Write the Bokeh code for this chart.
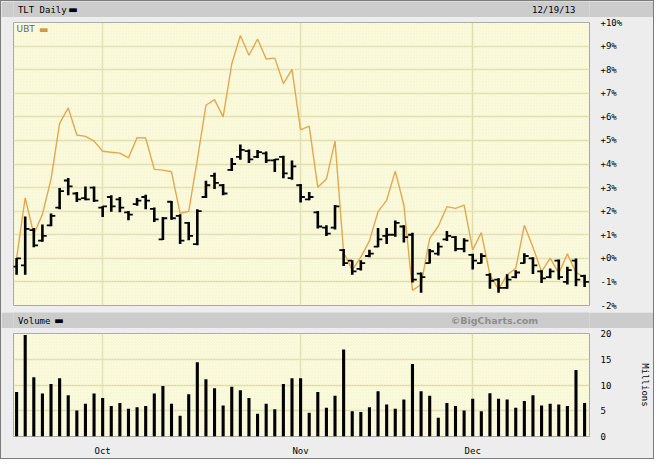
import numpy as np
from bokeh.plotting import figure
from bokeh.models import Range1d, FixedTicker, Label, BoxAnnotation, ColumnDataSource
from bokeh.layouts import column
from bokeh.embed import file_html
from bokeh.resources import INLINE

# ---------------- data (percent change vs. first close; volume in millions) ----------------
tlt_open = [-0.35, -0.30, 1.20, 0.75, 1.40, 2.15, 3.30, 2.75, 2.55, 3.00,
            2.15, 2.60, 2.50, 1.95, 2.30, 2.60, 2.10, 0.80, 2.40, 1.80,
            1.50, 0.60, 2.60, 3.50, 3.10, 3.75, 4.30, 4.55, 4.30, 4.45,
            4.15, 4.30, 3.40, 3.10, 2.50, 1.95, 1.30, 1.30, 0.35, -0.10,
            -0.45, 0.10, 0.50, 0.95, 1.00, 1.35, 1.00, -0.65, -0.20, 0.20,
            0.80, 0.90, 0.40, 0.15, -0.20, -0.70, -0.90, -1.25, -0.80, -0.20,
            0.00, -0.55, -0.80, -0.10, -1.00, -0.10, -0.75]
tlt_high = [0.01, 1.77, 1.29, 1.43, 1.90, 2.98, 3.41, 2.81, 3.05, 3.05,
            2.21, 2.67, 2.60, 2.01, 2.56, 2.70, 2.16, 1.75, 2.43, 1.87,
            1.54, 2.08, 3.29, 3.63, 3.15, 4.25, 4.83, 4.62, 4.59, 4.53,
            4.21, 4.35, 4.15, 3.15, 2.81, 2.01, 1.40, 2.26, 0.40, -0.08,
            -0.08, 0.36, 1.29, 1.29, 1.60, 1.40, 1.09, -0.60, 0.40, 0.67,
            1.16, 0.95, 0.85, 0.19, 0.22, -0.63, -0.84, -0.67, -0.50, 0.22,
            0.05, -0.50, -0.43, -0.05, -0.36, -0.01, -0.70]
tlt_low = [-0.70, -0.70, 0.47, 0.70, 1.36, 2.08, 2.67, 2.39, 2.46, 2.39,
           1.75, 1.98, 1.95, 1.61, 2.23, 2.08, 1.54, 0.78, 1.64, 0.61,
           0.77, 0.56, 2.56, 2.94, 2.67, 3.70, 4.18, 4.04, 4.25, 4.04,
           3.66, 3.40, 3.33, 2.37, 2.46, 1.27, 0.95, 1.22, -0.33, -0.70,
           -0.52, 0.05, 0.47, 0.61, 0.91, 0.67, -1.02, -1.46, -0.22, 0.12,
           0.74, 0.30, 0.26, -0.47, -0.22, -1.29, -1.46, -1.29, -0.84, -0.22,
           -0.66, -1.05, -0.84, -0.91, -1.11, -1.18, -1.22]
tlt_close = [0.00, 1.25, 0.55, 0.95, 1.80, 2.85, 3.05, 2.50, 2.50, 2.45,
             2.20, 2.20, 2.15, 1.85, 2.45, 2.45, 1.65, 1.70, 1.70, 0.75,
             0.95, 2.00, 3.10, 3.20, 2.75, 4.00, 4.60, 4.20, 4.50, 4.15,
             4.20, 3.60, 3.90, 2.60, 2.60, 1.35, 1.05, 2.20, -0.20, -0.55,
             -0.20, 0.20, 0.80, 1.00, 1.50, 0.90, -0.90, -0.80, 0.30, 0.50,
             0.95, 0.40, 0.75, -0.10, 0.10, -0.95, -1.25, -0.90, -0.60, 0.10,
             -0.30, -0.85, -0.55, -0.80, -0.50, -0.90, -1.00]
ubt_pct = [0.00, 2.57, 1.02, 1.87, 3.36, 5.72, 6.38, 5.23, 5.17, 4.97,
           4.54, 4.50, 4.46, 4.26, 5.12, 5.10, 3.77, 3.74, 3.67, 1.91,
           1.99, 4.18, 6.49, 6.73, 6.00, 8.24, 9.45, 8.61, 9.30, 8.45,
           8.49, 7.41, 8.01, 5.45, 5.61, 3.01, 3.36, 4.97, 0.26, -0.50,
           0.05, 0.74, 1.98, 2.46, 3.70, 2.26, -1.36, -1.11, 0.85, 1.36,
           2.19, 2.12, 2.26, 0.36, 1.09, -0.70, -1.32, -0.70, -0.43, 1.40,
           0.47, -0.56, 0.01, -0.63, 0.19, -0.61, -0.80]
volume_m = [8.65, 19.7, 11.5, 8.35, 10.2, 11.3, 8.0, 5.05, 6.35, 8.35,
            7.5, 5.9, 6.5, 5.4, 5.7, 5.9, 8.35, 9.8, 6.35, 4.05,
            8.2, 14.4, 11.1, 9.35, 6.0, 9.65, 9.0, 7.5, 4.4, 6.35,
            5.3, 10.2, 11.3, 11.3, 4.6, 8.65, 5.6, 7.9, 16.9, 4.9,
            4.75, 5.7, 8.8, 6.2, 5.4, 7.2, 14.1, 8.8, 7.9, 3.65,
            6.5, 5.9, 5.05, 7.35, 4.9, 8.4, 7.35, 7.2, 5.6, 6.9,
            8.0, 6.0, 6.35, 6.2, 5.9, 12.9, 6.5]

month_ticks = [10, 33, 53]          # first trading day of Oct, Nov, Dec
month_labels = ["Oct", "Nov", "Dec"]
pct_ticks = [-2, -1, 0, 1, 2, 3, 4, 5, 6, 7, 8, 9, 10]
vol_ticks = [0, 5, 10, 15, 20]

title_left = "TLT Daily"
title_right = "12/19/13"
legend_label = "UBT"
volume_title = "Volume"
credit = "\u00a9BigCharts.com"
y2_label = "Millions"

n = len(volume_m)
for arr in (tlt_open, tlt_high, tlt_low, tlt_close, ubt_pct):
    assert len(arr) == n

# ---------------- style ----------------
W = 652
LEFT, RIGHT = 12, 58
OUTER = "#ededed"
HEAD = "#cccccc"
PLOT_BG = "#fdfde1"
GRID = "#dedaa6"
UBT_COLOR = "#e4a84c"
MONO = "DejaVu Sans Mono"
SANS = "DejaVu Sans"

idx = np.arange(n)
tick_len = 0.5
src = ColumnDataSource(dict(
    x=idx, xl=idx - tick_len, xr=idx + tick_len,
    o=tlt_open, h=tlt_high, l=tlt_low, c=tlt_close, u=ubt_pct, v=volume_m,
))

xr = Range1d(-0.36, n - 1 + 0.57)


def band(height, labels):
    f = figure(width=W, height=height, x_range=Range1d(0, W), y_range=Range1d(0, height),
               title=None, toolbar_location=None, output_backend="svg",
               x_axis_location=None, y_axis_location=None, min_border=0,
               background_fill_color=HEAD, border_fill_color=HEAD, outline_line_color=None)
    f.grid.visible = False
    for kw in labels:
        base = dict(y=height / 2, text_baseline="middle", text_font=MONO,
                    text_font_size="9px", text_color="#000000")
        base.update(kw)
        f.add_layout(Label(**base))
    return f


head1 = band(16, [
    dict(x=5, text=title_left),
    dict(x=62, text="\u25ac", text_font=SANS, text_font_size="10px"),
    dict(x=636, text=title_right, text_align="right"),
])

# ---------------- price panel ----------------
p = figure(width=W, height=295, x_range=xr, y_range=Range1d(-2, 10),
           title=None, toolbar_location=None, output_backend="svg",
           x_axis_location=None, y_axis_location="right",
           min_border_left=LEFT, min_border_right=RIGHT, min_border_top=5, min_border_bottom=7,
           background_fill_color=PLOT_BG, border_fill_color=OUTER,
           outline_line_color="#a4a4a4")
p.add_layout(BoxAnnotation(fill_color=None, line_color=None, hatch_pattern="right_diagonal_line",
                           hatch_color="#f0f0cc", hatch_scale=3, hatch_weight=0.6,
                           level="underlay"))
p.ygrid.ticker = FixedTicker(ticks=pct_ticks)
p.xgrid.ticker = FixedTicker(ticks=month_ticks)
p.grid.grid_line_color = GRID
p.grid.grid_line_width = 1.5

p.yaxis.ticker = FixedTicker(ticks=pct_ticks)
p.yaxis.major_label_overrides = {t: ("+%d%%" % t if t >= 0 else "%d%%" % t) for t in pct_ticks}
p.yaxis.axis_line_color = None
p.yaxis.major_tick_line_color = None
p.yaxis.minor_tick_line_color = None
p.yaxis.major_label_standoff = 5
p.yaxis.major_label_text_font = MONO
p.yaxis.major_label_text_font_size = "9px"
p.yaxis.major_label_text_color = "#000000"

p.line("x", "u", source=src, line_color=UBT_COLOR, line_width=1.4)
p.segment(x0="x", y0="l", x1="x", y1="h", source=src, line_color="#000000", line_width=2.6)
p.segment(x0="xl", y0="o", x1="x", y1="o", source=src, line_color="#000000", line_width=1.8)
p.segment(x0="x", y0="c", x1="xr", y1="c", source=src, line_color="#000000", line_width=1.8)

p.add_layout(Label(x=0, y=9.72, text=legend_label, text_font=SANS, text_font_size="9px",
                   text_color="#666666", text_baseline="middle"))
p.add_layout(Label(x=2.6, y=9.72, text="\u25ac", text_font=SANS, text_font_size="10px",
                   text_color="#d19a3c", text_baseline="middle"))

head2 = band(16, [
    dict(x=5, text=volume_title),
    dict(x=46, text="\u25ac", text_font=SANS, text_font_size="10px"),
    dict(x=LEFT + 582, text=credit, text_align="right", text_font=SANS,
         text_font_style="bold", text_font_size="9.5px", text_color="#8e8e8e"),
])

# ---------------- volume panel ----------------
v = figure(width=W, height=130, x_range=xr, y_range=Range1d(0, 20),
           title=None, toolbar_location=None, output_backend="svg",
           x_axis_location="below", y_axis_location="right",
           min_border_left=LEFT, min_border_right=RIGHT, min_border_top=5, min_border_bottom=15,
           background_fill_color=PLOT_BG, border_fill_color=OUTER,
           outline_line_color="#a4a4a4")
v.add_layout(BoxAnnotation(fill_color=None, line_color=None, hatch_pattern="right_diagonal_line",
                           hatch_color="#f0f0cc", hatch_scale=3, hatch_weight=0.6,
                           level="underlay"))
v.ygrid.ticker = FixedTicker(ticks=vol_ticks)
v.xgrid.ticker = FixedTicker(ticks=month_ticks)
v.grid.grid_line_color = GRID
v.grid.grid_line_width = 1.5

v.vbar(x="x", top="v", width=0.36, source=src, fill_color="#000000", line_color=None)

v.yaxis.ticker = FixedTicker(ticks=vol_ticks)
v.yaxis.axis_label = y2_label
v.yaxis.axis_label_standoff = 26
v.yaxis.axis_label_text_font = MONO
v.yaxis.axis_label_text_font_size = "9px"
v.yaxis.axis_label_text_font_style = "normal"
v.yaxis.axis_label_text_color = "#000000"
v.xaxis.ticker = FixedTicker(ticks=month_ticks)
v.xaxis.major_label_overrides = dict(zip(month_ticks, month_labels))
for ax in (v.yaxis, v.xaxis):
    ax.axis_line_color = None
    ax.major_tick_line_color = None
    ax.minor_tick_line_color = None
    ax.major_label_text_font = MONO
    ax.major_label_text_font_size = "9px"
    ax.major_label_text_color = "#000000"
v.yaxis.major_label_standoff = 5
v.xaxis.major_label_standoff = 3

layout = column(head1, p, head2, v, spacing=0,
                styles={"border": "1px solid #7c7c7c", "background-color": OUTER})

open("out.html", "w").write(file_html(layout, INLINE))
